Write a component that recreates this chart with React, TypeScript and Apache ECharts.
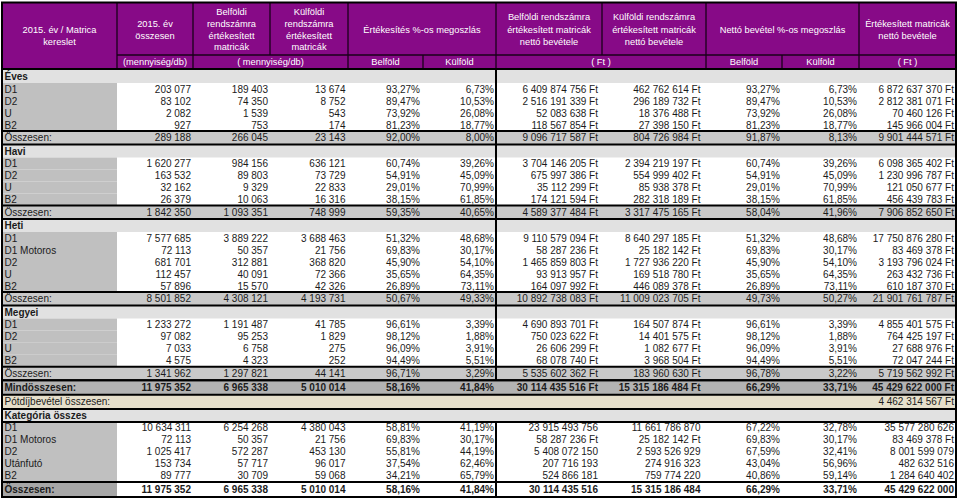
import React, { useEffect, useRef } from "react";
import * as echarts from "echarts";

// ---------------- DATA ----------------
const headerTitles = [
  "2015. év / Matrica\nkereslet",
  "2015. év\nösszesen",
  "Belföldi\nrendszámra\nértékesített\nmatricák",
  "Külföldi\nrendszámra\nértékesített\nmatricák",
  "Értékesítés %-os megoszlás",
  "Belföldi rendszámra\nértékesített matricák\nnettó bevétele",
  "Külföldi rendszámra\nértékesített matricák\nnettó bevétele",
  "Nettó bevétel %-os megoszlás",
  "Értékesített matricák\nnettó bevétele",
];
const subHeaders = ["(mennyiség/db)", "( mennyiség/db)", "Belföld", "Külföld", "( Ft )", "Belföld", "Külföld", "( Ft )"];

const sectionNames = ["Éves", "Havi", "Heti", "Megyei"];
const totalLabel = "Összesen:";
const grandLabel = "Mindösszesen:";
const surchargeLabel = "Pótdíjbevétel összesen:";
const categoryLabel = "Kategória összes";

const evesLabels = ["D1", "D2", "U", "B2"];
const evesValues = [
  [203077, 189403, 13674, 93.27, 6.73, 6409874756, 462762614, 93.27, 6.73, 6872637370],
  [83102, 74350, 8752, 89.47, 10.53, 2516191339, 296189732, 89.47, 10.53, 2812381071],
  [2082, 1539, 543, 73.92, 26.08, 52083638, 18376488, 73.92, 26.08, 70460126],
  [927, 753, 174, 81.23, 18.77, 118567854, 27398150, 81.23, 18.77, 145966004],
];
const evesTotal = [289188, 266045, 23143, 92.0, 8.0, 9096717587, 804726984, 91.87, 8.13, 9901444571];

const haviLabels = ["D1", "D2", "U", "B2"];
const haviValues = [
  [1620277, 984156, 636121, 60.74, 39.26, 3704146205, 2394219197, 60.74, 39.26, 6098365402],
  [163532, 89803, 73729, 54.91, 45.09, 675997386, 554999402, 54.91, 45.09, 1230996787],
  [32162, 9329, 22833, 29.01, 70.99, 35112299, 85938378, 29.01, 70.99, 121050677],
  [26379, 10063, 16316, 38.15, 61.85, 174121594, 282318189, 38.15, 61.85, 456439783],
];
const haviTotal = [1842350, 1093351, 748999, 59.35, 40.65, 4589377484, 3317475165, 58.04, 41.96, 7906852650];

const hetiLabels = ["D1", "D1 Motoros", "D2", "U", "B2"];
const hetiValues = [
  [7577685, 3889222, 3688463, 51.32, 48.68, 9110579094, 8640297185, 51.32, 48.68, 17750876280],
  [72113, 50357, 21756, 69.83, 30.17, 58287236, 25182142, 69.83, 30.17, 83469378],
  [681701, 312881, 368820, 45.9, 54.1, 1465859803, 1727936220, 45.9, 54.1, 3193796024],
  [112457, 40091, 72366, 35.65, 64.35, 93913957, 169518780, 35.65, 64.35, 263432736],
  [57896, 15570, 42326, 26.89, 73.11, 164097992, 446089378, 26.89, 73.11, 610187370],
];
const hetiTotal = [8501852, 4308121, 4193731, 50.67, 49.33, 10892738083, 11009023705, 49.73, 50.27, 21901761787];

const megyeiLabels = ["D1", "D2", "U", "B2"];
const megyeiValues = [
  [1233272, 1191487, 41785, 96.61, 3.39, 4690893701, 164507874, 96.61, 3.39, 4855401575],
  [97082, 95253, 1829, 98.12, 1.88, 750023622, 14401575, 98.12, 1.88, 764425197],
  [7033, 6758, 275, 96.09, 3.91, 26606299, 1082677, 96.09, 3.91, 27688976],
  [4575, 4323, 252, 94.49, 5.51, 68078740, 3968504, 94.49, 5.51, 72047244],
];
const megyeiTotal = [1341962, 1297821, 44141, 96.71, 3.29, 5535602362, 183960630, 96.78, 3.22, 5719562992];

const grandTotal = [11975352, 6965338, 5010014, 58.16, 41.84, 30114435516, 15315186484, 66.29, 33.71, 45429622000];
const surchargeTotal = 4462314567;

const kategoriaLabels = ["D1", "D1 Motoros", "D2", "Utánfutó", "B2"];
const kategoriaValues = [
  [10634311, 6254268, 4380043, 58.81, 41.19, 23915493756, 11661786870, 67.22, 32.78, 35577280626],
  [72113, 50357, 21756, 69.83, 30.17, 58287236, 25182142, 69.83, 30.17, 83469378],
  [1025417, 572287, 453130, 55.81, 44.19, 5408072150, 2593526929, 67.59, 32.41, 8001599079],
  [153734, 57717, 96017, 37.54, 62.46, 207716193, 274916323, 43.04, 56.96, 482632516],
  [89777, 30709, 59068, 34.21, 65.79, 524866181, 759774220, 40.86, 59.14, 1284640402],
];
const kategoriaFtSuffix = [false, true, false, false, false];
const kategoriaTotal = [11975352, 6965338, 5010014, 58.16, 41.84, 30114435516, 15315186484, 66.29, 33.71, 45429622000];

const columnKinds = ["qty", "qty", "qty", "pct", "pct", "ft", "ft", "pct", "pct", "ft"];

// ---------------- LAYOUT ----------------
const COL_EDGES = [2, 117, 193, 270, 348, 423, 496, 602, 706, 782, 859, 956];
const VALUE_RIGHT = [191, 268, 345.5, 420, 494, 598, 700.5, 780, 857, 954];
const HEADER_TOP = 2.5;
const HEADER_MID = 55;
const HEADER_BOTTOM = 69;
const TABLE_BOTTOM = 497;
const HEADER_SPANS: [number, number][] = [[0, 1], [1, 2], [2, 3], [3, 4], [4, 6], [6, 7], [7, 8], [8, 10], [10, 11]];
const SUB_SPANS: [number, number][] = [[1, 2], [2, 4], [4, 5], [5, 6], [6, 8], [8, 9], [9, 10], [10, 11]];
const HEIGHTS: Record<string, number> = { first: 14, section: 13, data: 12, total: 13.5, grand: 14.6, extra: 14.2, final: 15 };

const PURPLE = "#870a87";
const FONT = "'Liberation Sans', Arial, sans-serif";
const TEXT = "#1b1b1b";

function group(n: number) {
  return String(Math.round(n)).replace(/\B(?=(\d{3})+(?!\d))/g, " ");
}
function fmt(v: number, kind: string, ft: boolean) {
  if (kind === "pct") return v.toFixed(2).replace(".", ",") + "%";
  if (kind === "ft") return group(v) + (ft ? " Ft" : "");
  return group(v);
}

type Row = { type: string; label: string; values?: number[]; ft?: boolean; extra?: number };

function buildRows(): Row[] {
  const rows: Row[] = [];
  const secs = [
    [evesLabels, evesValues, evesTotal],
    [haviLabels, haviValues, haviTotal],
    [hetiLabels, hetiValues, hetiTotal],
    [megyeiLabels, megyeiValues, megyeiTotal],
  ] as [string[], number[][], number[]][];
  secs.forEach(([labels, values, total], si) => {
    rows.push({ type: si === 0 ? "first" : "section", label: sectionNames[si] });
    labels.forEach((l, i) => rows.push({ type: "data", label: l, values: values[i], ft: true }));
    rows.push({ type: "total", label: totalLabel, values: total, ft: true });
  });
  rows.push({ type: "grand", label: grandLabel, values: grandTotal, ft: true });
  rows.push({ type: "extra", label: surchargeLabel, extra: surchargeTotal });
  rows.push({ type: "section", label: categoryLabel });
  kategoriaLabels.forEach((l, i) =>
    rows.push({ type: "data", label: l, values: kategoriaValues[i], ft: kategoriaFtSuffix[i] })
  );
  rows.push({ type: "final", label: totalLabel, values: kategoriaTotal, ft: false });
  return rows;
}

function txt(text: string, x: number, y: number, align: string, opts: any = {}) {
  return {
    type: "text",
    x,
    y,
    silent: true,
    style: {
      text,
      fill: opts.fill || TEXT,
      fontSize: opts.size || 10,
      fontFamily: FONT,
      fontWeight: opts.bold ? "bold" : "normal",
      lineHeight: opts.lineHeight || 12,
      align,
      textAlign: align,
      verticalAlign: "middle",
      textVerticalAlign: "middle",
    },
  };
}
function rect(x: number, y: number, w: number, h: number, fill: string) {
  return { type: "rect", silent: true, shape: { x, y, width: w, height: h }, style: { fill } };
}
function line(x1: number, y1: number, x2: number, y2: number, w = 2, color = "#000") {
  return { type: "line", silent: true, shape: { x1, y1, x2, y2 }, style: { stroke: color, lineWidth: w } };
}

function buildGraphic() {
  const rects: any[] = [];
  const lines: any[] = [];
  const texts: any[] = [];
  const L = COL_EDGES[0];
  const R = COL_EDGES[COL_EDGES.length - 1];

  // header
  rects.push(rect(L, HEADER_TOP, R - L, HEADER_BOTTOM - HEADER_TOP, PURPLE));
  HEADER_SPANS.forEach(([a, b], i) => {
    const cx = (COL_EDGES[a] + COL_EDGES[b]) / 2;
    const cy = i === 0 ? (HEADER_TOP + HEADER_BOTTOM) / 2 : (HEADER_TOP + HEADER_MID) / 2 + 1;
    const lh = i >= 5 ? 12.5 : 11.6;
    texts.push(txt(headerTitles[i], cx, cy, "center", { fill: "#ffffff", size: 9.3, lineHeight: lh }));
    if (i > 0) lines.push(line(COL_EDGES[a], HEADER_TOP, COL_EDGES[a], HEADER_MID, 1.3, "#1a001a"));
  });
  SUB_SPANS.forEach(([a, b], i) => {
    const cx = (COL_EDGES[a] + COL_EDGES[b]) / 2;
    texts.push(txt(subHeaders[i], cx, (HEADER_MID + HEADER_BOTTOM) / 2, "center", { fill: "#ffffff", size: 9.3 }));
    lines.push(line(COL_EDGES[a], HEADER_MID, COL_EDGES[a], HEADER_BOTTOM, 1.3, "#1a001a"));
  });
  lines.push(line(COL_EDGES[1], HEADER_MID, R, HEADER_MID, 1.3, "#1a001a"));
  lines.push(line(L - 1, HEADER_TOP, R + 1, HEADER_TOP, 2));
  lines.push(line(L - 1, HEADER_BOTTOM, R + 1, HEADER_BOTTOM, 2));

  // body
  const rows = buildRows();
  const raw = rows.map((r) => HEIGHTS[r.type]);
  const sum = raw.reduce((a, b) => a + b, 0);
  const k = (TABLE_BOTTOM - HEADER_BOTTOM) / sum;
  let y = HEADER_BOTTOM;
  let midBreakTop = 0;
  let midResume = 0;
  rows.forEach((r) => {
    const h = raw[rows.indexOf(r)] * k;
    const cy = y + h / 2;
    const bold = r.type === "first" || r.type === "section" || r.type === "grand" || r.type === "final";
    if (r.type === "first" || r.type === "section") rects.push(rect(L, y, R - L, h, "#e1e1e1"));
    if (r.type === "data") rects.push(rect(L, y, COL_EDGES[1] - L, h, "#c0c0c0"));
    if (r.type === "total") rects.push(rect(L, y, R - L, h, "#c9c9c9"));
    if (r.type === "grand") rects.push(rect(L, y, R - L, h, "#b3b3b3"));
    if (r.type === "extra") rects.push(rect(L, y, R - L, h, "#e6dfcb"));
    if (r.type === "final") rects.push(rect(L, y, COL_EDGES[1] - L, h, "#a7a7a7"));
    if (r.type === "total" || r.type === "grand" || r.type === "final") {
      lines.push(line(L - 1, y, R + 1, y, 2));
      lines.push(line(L - 1, y + h, R + 1, y + h, 2));
    }
    if (r.type === "section" && r.label === categoryLabel) {
      lines.push(line(L - 1, y, R + 1, y, 2));
      lines.push(line(L - 1, y + h, R + 1, y + h, 2));
      midResume = y + h;
    }
    if (r.type === "grand") midBreakTop = y;

    texts.push(txt(r.label, L + 2.5, cy, "left", { bold }));
    if (r.values) {
      r.values.forEach((v, ci) => {
        texts.push(txt(fmt(v, columnKinds[ci], !!r.ft), VALUE_RIGHT[ci], cy, "right", { bold }));
      });
    }
    if (r.extra !== undefined) {
      texts.push(txt(fmt(r.extra, "ft", true), VALUE_RIGHT[9], cy, "right"));
    }
    y += h;
  });

  // vertical borders
  lines.push(line(L, HEADER_TOP, L, TABLE_BOTTOM, 2));
  lines.push(line(R, HEADER_TOP, R, TABLE_BOTTOM, 2));
  lines.push(line(L - 1, TABLE_BOTTOM, R + 1, TABLE_BOTTOM, 2));
  lines.push(line(COL_EDGES[6], HEADER_BOTTOM, COL_EDGES[6], midBreakTop, 2));
  lines.push(line(COL_EDGES[6], midResume, COL_EDGES[6], TABLE_BOTTOM, 2));

  return [...rects, ...lines, ...texts];
}

export default function App() {
  const ref = useRef<HTMLDivElement>(null);
  useEffect(() => {
    if (!ref.current) return;
    const chart = echarts.init(ref.current, undefined, { renderer: "svg" });
    chart.setOption({
      animation: false,
      backgroundColor: "#ffffff",
      graphic: { elements: buildGraphic() },
    });
    return () => chart.dispose();
  }, []);
  return (
    <div
      ref={ref}
      style={{ position: "fixed", left: 0, top: 0, width: 960, height: 500, background: "#fff" }}
    />
  );
}
